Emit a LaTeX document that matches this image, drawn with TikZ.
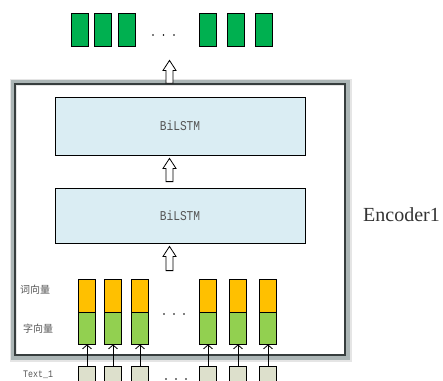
\documentclass[tikz,border=0pt]{standalone}
\usepackage{fontspec}
\usepackage{tikz}
\usetikzlibrary{arrows.meta,positioning,calc}
\newfontfamily\cjk{Noto Sans CJK SC}
\newfontfamily\narrowmono[FakeStretch=0.83]{Liberation Mono}
\newfontfamily\encfont{Liberation Serif}
\definecolor{outGreen}{RGB}{0,176,80}
\definecolor{wordGold}{RGB}{255,192,0}
\definecolor{charGreen}{RGB}{146,208,80}
\definecolor{lstmBlue}{RGB}{218,237,243}
\definecolor{inputGray}{RGB}{221,224,204}
\definecolor{frameDark}{RGB}{55,62,62}
\definecolor{frameShade}{RGB}{172,182,182}
\definecolor{labelGray}{RGB}{85,85,85}

% hollow block arrow: #1 tail, #2 tip (same x)
\newcommand{\hollowarrow}[2]{%
  \draw[line width=0.8pt, fill=white] let \p1=#1, \p2=#2 in
    (\x1-3.5pt,\y1) -- (\x1-3.5pt,\y2-10pt) -- (\x1-6.5pt,\y2-10pt) -- (\x1,\y2)
    -- (\x1+6.5pt,\y2-10pt) -- (\x1+3.5pt,\y2-10pt) -- (\x1+3.5pt,\y1) -- cycle;}

\begin{document}
\begin{tikzpicture}[x=1pt, y=-1pt,
    cell/.style={draw=black, line width=0.8pt, minimum width=17pt, inner sep=0pt},
    lstm/.style={draw=black, line width=0.8pt, fill=lstmBlue, minimum width=250pt,
      inner sep=0pt, font=\narrowmono\fontsize{13.5}{14}\selectfont, text=labelGray},
    encshadow/.style={draw=frameShade, line width=3.5pt, minimum width=335pt, minimum height=276pt,
      inner sep=0pt, preaction={draw=black!10, line width=7pt}},
    encoder/.style={draw=frameDark, line width=1.4pt, minimum width=330pt, minimum height=271pt,
      inner sep=0pt},
    side/.style={text=labelGray, inner sep=0pt, anchor=west}]
  \useasboundingbox (0,0) rectangle (443,380);
  \coordinate (axis) at (169.5,0);

  % output sequence
  \foreach \x [count=\i] in {79.5,102.5,126.5,207.5,235.5,263.5}
    \node[cell, fill=outGreen, minimum height=33pt] (out\i) at (\x,29.5) {};
  \foreach \x in {153,163.5,174} \fill (\x,35) circle (0.9);

  % encoder frame with its soft shadow
  \node[encshadow] (encglow) at (180.5,220) {};
  \node[encoder] (encoder) at (180,219.5) {};
  \node[side, font=\encfont\fontsize{20}{22}\selectfont, text=black!80] (enclabel) at (363,215) {Encoder1};

  % two BiLSTM layers
  \node[lstm, minimum height=58pt] (lstm1) at (180,126) {BiLSTM};
  \node[lstm, minimum height=55pt] (lstm2) at (180,215.5) {BiLSTM};

  % embedding columns: word vector on top of char vector, text below
  \foreach \x [count=\i] in {87,113,140,208,238,268} {
    \node[cell, fill=wordGold, minimum height=33pt] (wd\i) at (\x,295.5) {};
    \node[cell, fill=charGreen, minimum height=32pt] (ch\i) at (\x,328) {};
    \node[cell, fill=inputGray, minimum height=22pt] (in\i) at (\x,377) {};
    \draw[line width=0.8pt, -{Straight Barb[length=4pt, width=9pt]}] (in\i.north) -- (ch\i.south);
  }
  \foreach \x in {164,174,184} \fill (\x,314) circle (0.9);
  \foreach \x in {166,176,186} \fill (\x,379) circle (0.9);

  % labels on the left
  \node[side, font=\cjk\fontsize{10}{11}\selectfont] (wordlabel) at (20,290) {词向量};
  \node[side, font=\cjk\fontsize{10}{11}\selectfont] (charlabel) at (23,329) {字向量};
  \node[side, font=\narrowmono\fontsize{10}{11}\selectfont] (textlabel) at (23,374.5) {Text\_1};

  % hollow arrows between the layers
  \hollowarrow{($(wd1.north -| axis)+(0,-8)$)}{($(lstm2.south -| axis)+(0,3)$)}
  \hollowarrow{($(lstm2.north -| axis)+(0,-6)$)}{($(lstm1.south -| axis)+(0,3)$)}
  \hollowarrow{(encoder.north -| axis)}{($(out1.south -| axis)+(0,14)$)}
\end{tikzpicture}
\end{document}
